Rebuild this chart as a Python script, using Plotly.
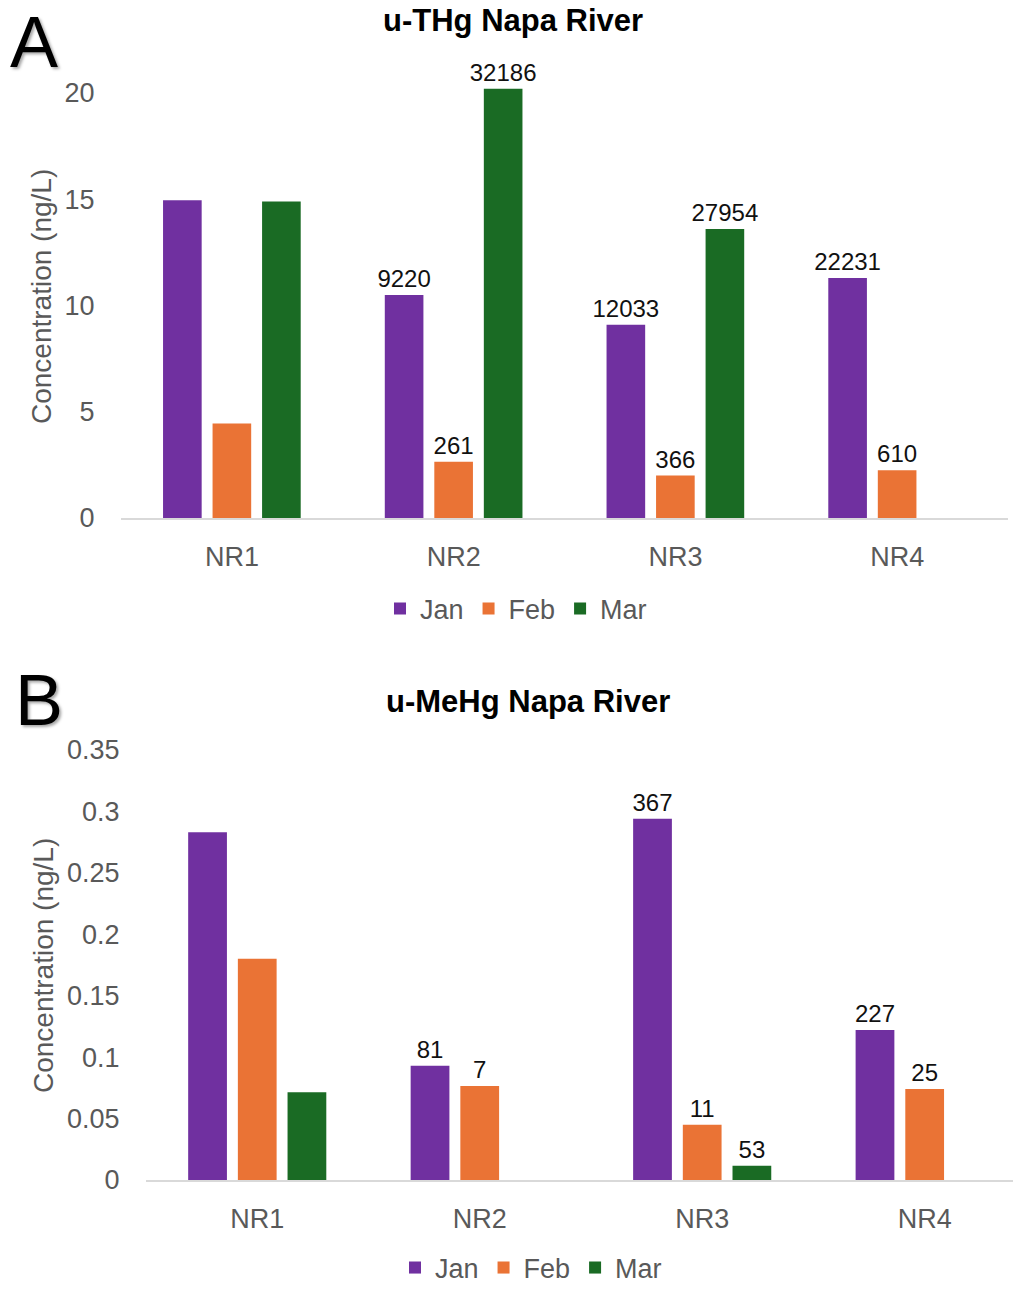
import plotly.graph_objects as go

sites = ["NR1", "NR2", "NR3", "NR4"]
months = ["Jan", "Feb", "Mar"]
colors = ["#7030A0", "#EA7335", "#1A6B24"]

# Panel A: u-THg (ng/L)
thg_jan = [14.95, 10.5, 9.1, 11.3]
thg_feb = [4.45, 2.65, 2.0, 2.25]
thg_mar = [14.9, 20.2, 13.6, None]
thg_jan_lbl = ["", "9220", "12033", "22231"]
thg_feb_lbl = ["", "261", "366", "610"]
thg_mar_lbl = ["", "32186", "27954", ""]

# Panel B: u-MeHg (ng/L)
mehg_jan = [0.283, 0.093, 0.294, 0.122]
mehg_feb = [0.180, 0.0765, 0.045, 0.074]
mehg_mar = [0.0715, None, 0.0115, None]
mehg_jan_lbl = ["", "81", "367", "227"]
mehg_feb_lbl = ["", "7", "11", "25"]
mehg_mar_lbl = ["", "", "53", ""]

thg_ticks = [0, 5, 10, 15, 20]
mehg_ticks = [0, 0.05, 0.1, 0.15, 0.2, 0.25, 0.3, 0.35]

W, H = 1013, 1289
FONT = "Liberation Sans, Arial, sans-serif"
GRAY = "#595959"

fig = go.Figure()

for vals, lbls, name, col in zip([thg_jan, thg_feb, thg_mar],
                                 [thg_jan_lbl, thg_feb_lbl, thg_mar_lbl],
                                 months, colors):
    fig.add_trace(go.Bar(x=sites, y=vals, name=name, marker_color=col,
                         marker_line_width=0, text=lbls, textposition="outside",
                         constraintext="none", cliponaxis=False,
                         textfont=dict(size=24, color="#111111", family=FONT),
                         xaxis="x", yaxis="y", legend="legend"))

for vals, lbls, name, col in zip([mehg_jan, mehg_feb, mehg_mar],
                                 [mehg_jan_lbl, mehg_feb_lbl, mehg_mar_lbl],
                                 months, colors):
    fig.add_trace(go.Bar(x=sites, y=vals, name=name, marker_color=col,
                         marker_line_width=0, text=lbls, textposition="outside",
                         constraintext="none", cliponaxis=False,
                         textfont=dict(size=24, color="#111111", family=FONT),
                         xaxis="x2", yaxis="y2", legend="legend2"))

def py(p):
    return 1 - p / H

def px(p):
    return p / W

xcommon = dict(type="category", showgrid=False, zeroline=False, showline=True,
               linecolor="#D9D9D9", linewidth=2, ticks="outside", ticklen=14,
               tickcolor="rgba(0,0,0,0)", automargin=False,
               tickfont=dict(size=27, color=GRAY, family=FONT))
ycommon = dict(showgrid=False, zeroline=False, showline=False, ticks="outside",
               ticklen=20, tickcolor="rgba(0,0,0,0)", automargin=False,
               tickfont=dict(size=27, color=GRAY, family=FONT))

fig.update_layout(
    width=W, height=H,
    margin=dict(l=0, r=0, t=0, b=0, autoexpand=False),
    paper_bgcolor="white", plot_bgcolor="white",
    font=dict(family=FONT, color=GRAY),
    barmode="group", bargap=0.33, bargroupgap=0.22,
    showlegend=True,
    xaxis=dict(domain=[px(121), px(1008)], range=[-0.5, 3.5], anchor="y", **xcommon),
    yaxis=dict(domain=[py(518), py(85)], range=[0, (518 - 85) / 21.25],
               tickvals=thg_ticks, anchor="x", **ycommon),
    xaxis2=dict(domain=[px(146), 1.0], range=[-0.5, 3.397], anchor="y2", **xcommon),
    yaxis2=dict(domain=[py(1180), py(745)], range=[0, 435 / 1228.6],
                tickvals=mehg_ticks, anchor="x2", **ycommon),
    legend=dict(orientation="h", x=px(516), xanchor="center", y=py(609), yanchor="middle",
                font=dict(size=27, color=GRAY, family=FONT), bgcolor="rgba(0,0,0,0)",
                itemwidth=30, tracegroupgap=0),
    legend2=dict(orientation="h", x=px(531), xanchor="center", y=py(1268), yanchor="middle",
                 font=dict(size=27, color=GRAY, family=FONT), bgcolor="rgba(0,0,0,0)",
                 itemwidth=30, tracegroupgap=0),
)

ann = [
    dict(text="A", x=px(34), y=py(42), font=dict(size=72, color="black", family=FONT,
         shadow="2px 2px 3px rgba(0,0,0,0.35)")),
    dict(text="B", x=px(39), y=py(700), font=dict(size=72, color="black", family=FONT,
         shadow="2px 2px 3px rgba(0,0,0,0.35)")),
    dict(text="<b>u-THg Napa River</b>", x=px(513), y=py(21),
         font=dict(size=31, color="black", family=FONT)),
    dict(text="<b>u-MeHg Napa River</b>", x=px(528), y=py(701),
         font=dict(size=31, color="black", family=FONT)),
    dict(text="Concentration (ng/L)", x=px(42), y=py(297), textangle=-90,
         font=dict(size=28, color=GRAY, family=FONT)),
    dict(text="Concentration (ng/L)", x=px(43), y=py(966), textangle=-90,
         font=dict(size=28, color=GRAY, family=FONT)),
]
for a in ann:
    fig.add_annotation(xref="paper", yref="paper", xanchor="center", yanchor="middle",
                       showarrow=False, **a)

fig.write_html("out.html", config={"displayModeBar": False},
               post_script="document.body.style.margin='0px';document.body.style.overflow='hidden';")
